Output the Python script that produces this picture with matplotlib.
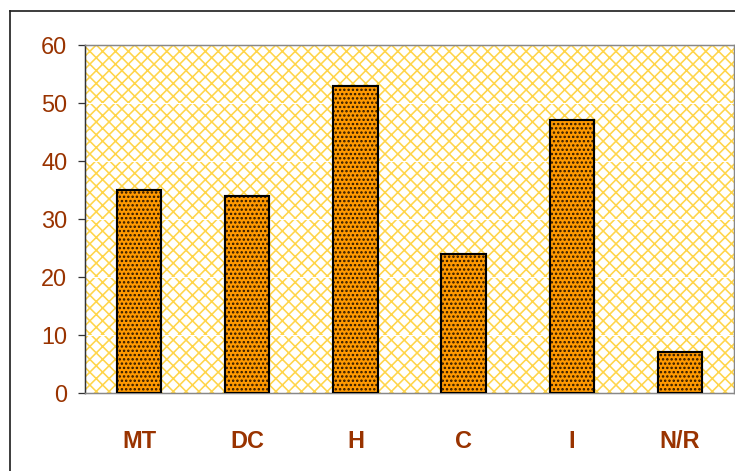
import matplotlib
matplotlib.use("Agg")
import matplotlib.pyplot as plt
from matplotlib.patches import Rectangle
from matplotlib.lines import Line2D

categories = ["MT", "DC", "H", "C", "I", "N/R"]
values = [35, 34, 53, 24, 47, 7]
yticks = [0, 10, 20, 30, 40, 50, 60]

DPI = 77
plt.rcParams["font.family"] = ["Liberation Sans", "DejaVu Sans"]
plt.rcParams["hatch.linewidth"] = 1.5

fig = plt.figure(figsize=(735 / DPI, 471 / DPI), dpi=DPI)
fig.patch.set_facecolor("white")
ax = fig.add_axes([85 / 735, 1 - 393 / 471, 649 / 735, 348 / 471])

# yellow cross-hatched plot area
ax.add_patch(Rectangle((0, 0), 1, 1, transform=ax.transAxes, facecolor="white",
                       edgecolor="#FFD54A", hatch="xx", linewidth=0, zorder=0))
for t in yticks[1:-1]:
    ax.axhline(t, color="white", lw=1.0, zorder=0.5)

x = range(len(categories))
w = 0.41
ax.bar(x, values, width=w, color="#FF9900", edgecolor="none", zorder=2)
ax.bar(x, values, width=w, color="none", edgecolor="#2b1500", hatch="...",
       linewidth=0, zorder=3)
ax.bar(x, values, width=w, color="none", edgecolor="black", linewidth=2.0, zorder=4)

ax.set_xlim(-0.5, len(categories) - 0.5)
ax.set_ylim(0, 60)
ax.set_yticks(yticks)
ax.set_xticks(list(x))
ax.set_xticklabels(categories, fontweight="bold")

ax.tick_params(axis="y", direction="out", length=6.5, width=1.2, color="#333333",
               labelsize=22, labelcolor="#993300", pad=10)
ax.tick_params(axis="x", length=0, labelsize=22, labelcolor="#993300", pad=35)

for s in ["top", "right", "bottom"]:
    ax.spines[s].set_color("#888888")
    ax.spines[s].set_linewidth(1.4)
ax.spines["left"].set_color("#333333")
ax.spines["left"].set_linewidth(1.4)

# outer chart frame
fig.add_artist(Line2D([9.5 / 735, 1.0], [1 - 11 / 471, 1 - 11 / 471],
                      transform=fig.transFigure, color="#222222", lw=1.6))
fig.add_artist(Line2D([9.5 / 735, 9.5 / 735], [0.0, 1 - 11 / 471],
                      transform=fig.transFigure, color="#222222", lw=1.6))

fig.savefig("out.png", dpi=DPI)
